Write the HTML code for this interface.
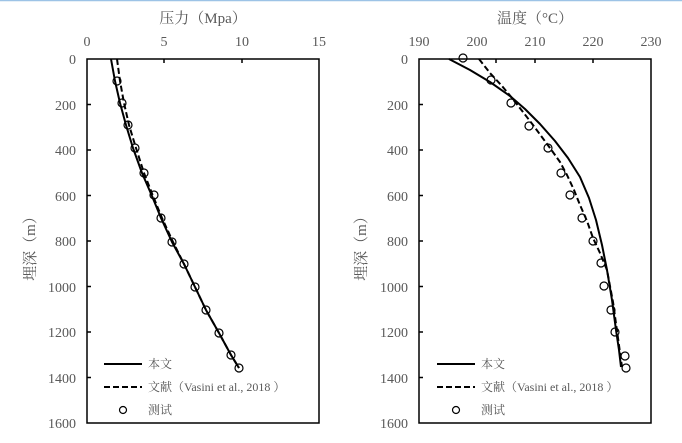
<!DOCTYPE html><html><head><meta charset="utf-8"><style>body{margin:0;background:#fff}svg text{font-family:"Liberation Serif","Noto Serif CJK SC",serif;fill:#595959}</style></head><body>
<svg width="682" height="438" xmlns="http://www.w3.org/2000/svg">
<line x1="0" y1="0.5" x2="682" y2="0.5" stroke="#9dc3e6" stroke-width="1.5"/>
<g font-size="14">
<text x="203" y="23" text-anchor="middle" font-size="15">压力（Mpa）</text>
<text x="87" y="46" text-anchor="middle">0</text><text x="164" y="46" text-anchor="middle">5</text><text x="242" y="46" text-anchor="middle">10</text><text x="319" y="46" text-anchor="middle">15</text>
<text x="535" y="23" text-anchor="middle" font-size="15">温度（°C）</text>
<text x="419" y="46" text-anchor="middle">190</text><text x="477" y="46" text-anchor="middle">200</text><text x="535" y="46" text-anchor="middle">210</text><text x="593" y="46" text-anchor="middle">220</text><text x="651" y="46" text-anchor="middle">230</text>
</g>
<g font-size="14" text-anchor="end">
<text x="76" y="64">0</text><text x="76" y="110">200</text><text x="76" y="155">400</text><text x="76" y="201">600</text><text x="76" y="246">800</text><text x="76" y="292">1000</text><text x="76" y="337">1200</text><text x="76" y="383">1400</text><text x="76" y="428">1600</text>
<text x="408" y="64">0</text><text x="408" y="110">200</text><text x="408" y="155">400</text><text x="408" y="201">600</text><text x="408" y="246">800</text><text x="408" y="292">1000</text><text x="408" y="337">1200</text><text x="408" y="383">1400</text><text x="408" y="428">1600</text>
</g>
<text transform="translate(35,245) rotate(-90)" text-anchor="middle" font-size="15">埋深（m）</text>
<text transform="translate(366,245) rotate(-90)" text-anchor="middle" font-size="15">埋深（m）</text>
<g stroke="#000" stroke-width="1.5" fill="none">
<rect x="87" y="59" width="232" height="364"/>
<rect x="419" y="59" width="232" height="364"/>
<path d="M164 59v4M242 59v4M87 104.5h4M87 150h4M87 195.5h4M87 241h4M87 286.5h4M87 332h4M87 377.5h4M496 59v4M535 59v4M593 59v4M419 104.5h4M419 150h4M419 195.5h4M419 241h4M419 286.5h4M419 332h4M419 377.5h4"/>
</g>
<g fill="none" stroke="#000" stroke-width="2" stroke-linejoin="round">
<polyline points="111,59 115,81 120,103 126,125 133,148 142,173 152,196 161,218 172,242 184,264 195,287 206,310 219,333 231,355 239,368"/>
<polyline stroke-dasharray="6,3" points="117,59 120,81 124,103 129,125 136,148 144,173 153,196 162,218 173,242 184,264 195,287 206,310 219,333 231,355 239,368"/>
<polyline points="449,59 470,70 490,82 510,96 525,109 540,124 555,141 568,158 580,177 589,198 596,220 602,245 607,270 612,300 616,330 619,350 621,367"/>
<polyline stroke-dasharray="6,3" points="479,59 490,73 502,86 512,98 523,112 533,125 550,148 560,162 567,175 574,190 580,205 587,221 593,238 600,253 607,270 613,302 618,338 622,367"/>
</g>
<g fill="none" stroke="#000" stroke-width="1.2">
<circle cx="117" cy="81" r="4"/><circle cx="122" cy="103" r="4"/><circle cx="128" cy="125" r="4"/><circle cx="135" cy="148" r="4"/><circle cx="144" cy="173" r="4"/><circle cx="154" cy="195" r="4"/><circle cx="161" cy="218" r="4"/><circle cx="172" cy="242" r="4"/><circle cx="184" cy="264" r="4"/><circle cx="195" cy="287" r="4"/><circle cx="206" cy="310" r="4"/><circle cx="219" cy="333" r="4"/><circle cx="231" cy="355" r="4"/><circle cx="239" cy="368" r="4"/>
<circle cx="463" cy="58" r="4"/><circle cx="491" cy="80" r="4"/><circle cx="511" cy="103" r="4"/><circle cx="529" cy="126" r="4"/><circle cx="548" cy="148" r="4"/><circle cx="561" cy="173" r="4"/><circle cx="570" cy="195" r="4"/><circle cx="582" cy="218" r="4"/><circle cx="593" cy="241" r="4"/><circle cx="601" cy="263" r="4"/><circle cx="604" cy="286" r="4"/><circle cx="611" cy="310" r="4"/><circle cx="615" cy="332" r="4"/><circle cx="625" cy="356" r="4"/><circle cx="626" cy="368" r="4"/>
</g>
<g stroke="#000" stroke-width="2">
<line x1="104" y1="364" x2="142" y2="364"/><line x1="104" y1="387" x2="142" y2="387" stroke-dasharray="6,3"/>
<line x1="437" y1="364" x2="475" y2="364"/><line x1="437" y1="387" x2="475" y2="387" stroke-dasharray="6,3"/>
</g>
<circle cx="123" cy="410" r="3.5" fill="none" stroke="#000" stroke-width="1.2"/>
<circle cx="456" cy="410" r="3.5" fill="none" stroke="#000" stroke-width="1.2"/>
<g font-size="12">
<text x="148" y="368">本文</text><text x="148" y="391">文献（Vasini et al., 2018 ）</text><text x="148" y="414">测试</text>
<text x="481" y="368">本文</text><text x="481" y="391">文献（Vasini et al., 2018 ）</text><text x="481" y="414">测试</text>
</g>
</svg></body></html>
